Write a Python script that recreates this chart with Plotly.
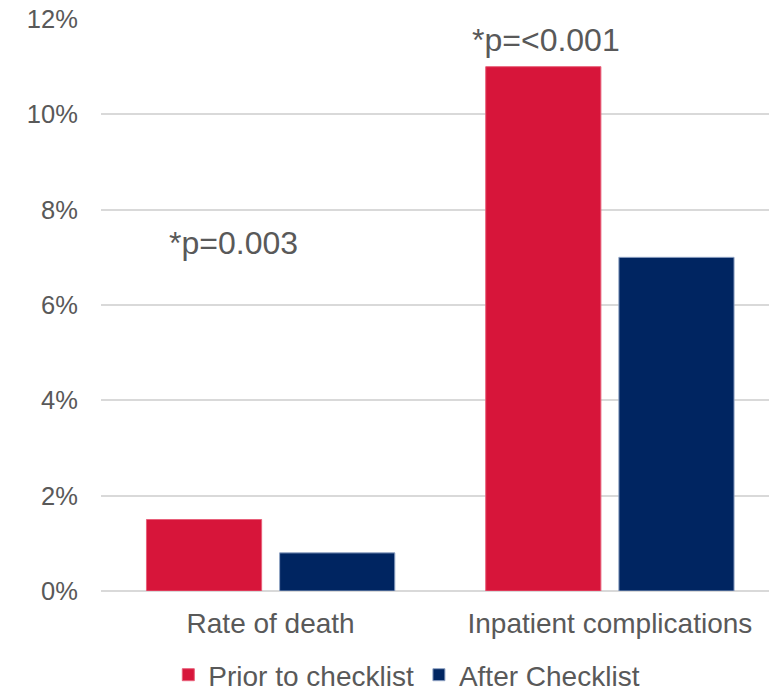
import plotly.graph_objects as go

categories = ["Rate of death", "Inpatient complications"]
prior_to_checklist = [1.5, 11.0]
after_checklist = [0.8, 7.0]
tick_values = [0, 2, 4, 6, 8, 10, 12]
tick_labels = ["0%", "2%", "4%", "6%", "8%", "10%", "12%"]
p_labels = ["*p=0.003", "*p=<0.001"]

FONT = "Liberation Sans, Arial, sans-serif"
GREY = "#595959"

fig = go.Figure()
fig.add_trace(go.Bar(
    x=[0, 1], y=prior_to_checklist, name="Prior to checklist",
    marker=dict(color="#D7153A", line=dict(color="#E8607A", width=1)),
))
fig.add_trace(go.Bar(
    x=[0, 1], y=after_checklist, name="After Checklist",
    marker=dict(color="#002561", line=dict(color="#8FA3C4", width=1)),
))

# significance notes above each group
fig.add_annotation(x=-0.109, y=7.3, text=p_labels[0], showarrow=False,
                   xref="x", yref="y", font=dict(size=32, color=GREY, family=FONT))
fig.add_annotation(x=0.811, y=11.56, text=p_labels[1], showarrow=False,
                   xref="x", yref="y", font=dict(size=32, color=GREY, family=FONT))

fig.update_layout(
    width=769, height=691,
    margin=dict(l=101, r=0, t=19, b=100),
    plot_bgcolor="white", paper_bgcolor="white",
    barmode="group", bargap=0.215, bargroupgap=0.135,
    font=dict(family=FONT, size=28, color=GREY),
    showlegend=True,
    legend=dict(orientation="h", xref="container", yref="container",
                x=0.529, xanchor="center", y=1 - 675 / 691, yanchor="middle",
                font=dict(size=28, color=GREY), itemwidth=30,
                traceorder="normal"),
    xaxis=dict(
        range=[-0.5, -0.5 + 667.5 / 339],
        tickmode="array", tickvals=[0, 1], ticktext=categories,
        showgrid=False, zeroline=False, showline=False,
        ticks="outside", ticklen=7, tickcolor="rgba(0,0,0,0)",
        tickfont=dict(size=28, color=GREY),
    ),
    yaxis=dict(
        range=[0, 12], tickmode="array", tickvals=tick_values, ticktext=tick_labels,
        showgrid=True, gridcolor="#D9D9D9", gridwidth=1.5,
        zeroline=True, zerolinecolor="#D9D9D9", zerolinewidth=1.5,
        showline=False, ticks="outside", ticklen=17, tickcolor="rgba(0,0,0,0)",
        tickfont=dict(size=25.5, color=GREY),
    ),
)

fig.write_html("out.html")
